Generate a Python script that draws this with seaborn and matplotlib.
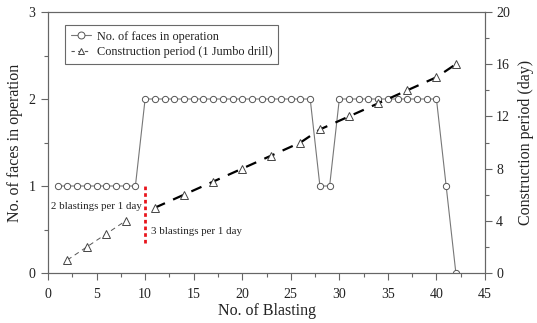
import matplotlib
matplotlib.use("Agg")
import matplotlib.pyplot as plt
import seaborn as sns
import pandas as pd
from matplotlib.ticker import MultipleLocator
from matplotlib.lines import Line2D

blast_no = list(range(1, 43))
faces = [1]*9 + [2]*18 + [1, 1] + [2]*11 + [1, 0]

tri_x1 = [2, 4, 6, 8]
tri_y1 = [1, 2, 3, 4]
tri_x2 = [11, 14, 17, 20, 23, 26, 28, 31, 34, 37, 40, 42]
tri_y2 = [5, 6, 7, 8, 9, 10, 11, 12, 13, 14, 15, 16]

sns.set_theme(style="white")
plt.rcParams['font.family'] = ['Liberation Serif', 'DejaVu Serif']

fig = plt.figure(figsize=(5.37, 3.23), dpi=100)
ax = fig.add_axes([48/537, 1-273/323, (485-48)/537, (273-12)/323])
ax2 = ax.twinx()

df_f = pd.DataFrame({'x': blast_no, 'y': faces})
sns.lineplot(data=df_f, x='x', y='y', ax=ax, color='#777777', lw=0.8,
             marker='o', markersize=4.5, markerfacecolor='white',
             markeredgecolor='#555555', markeredgewidth=0.7)

df1 = pd.DataFrame({'x': tri_x1, 'y': tri_y1})
df2 = pd.DataFrame({'x': tri_x2, 'y': tri_y2})
sns.lineplot(data=df1, x='x', y='y', ax=ax2, color='#555555', lw=0.7,
             linestyle=(0, (5, 4)), marker='^', markersize=6,
             markerfacecolor='white', markeredgecolor='#444444', markeredgewidth=0.7)
sns.lineplot(data=df2, x='x', y='y', ax=ax2, color='black', lw=1.6,
             linestyle=(0, (5, 4)), marker='^', markersize=6,
             markerfacecolor='white', markeredgecolor='#444444', markeredgewidth=0.7)

ax.plot([10, 10], [0.35, 1.0], color='#e8141c', lw=2.0, linestyle=(0, (1.3, 1.1)))

ax.set_xlim(0, 45)
ax.set_ylim(0, 3)
ax2.set_ylim(0, 20)
ax.xaxis.set_major_locator(MultipleLocator(5))
ax.xaxis.set_minor_locator(MultipleLocator(2.5))
ax.yaxis.set_major_locator(MultipleLocator(1))
ax.yaxis.set_minor_locator(MultipleLocator(0.5))
ax2.yaxis.set_major_locator(MultipleLocator(4))
ax2.yaxis.set_minor_locator(MultipleLocator(2))

for a in (ax, ax2):
    for s in a.spines.values():
        s.set_color('#666666')
        s.set_linewidth(0.8)
    a.tick_params(which='both', direction='out', color='#666666', width=0.8,
                  labelsize=10, labelcolor='#222222', pad=3)
    a.tick_params(which='major', length=5)
    a.tick_params(which='minor', length=3)
ax.tick_params(axis='y', which='both', left=True, right=False, pad=4)
ax.tick_params(axis='x', which='both', bottom=True, pad=6)
ax2.tick_params(axis='y', which='both', right=True, left=False, pad=3)

ax.set_xlabel('No. of Blasting', fontsize=11.5, color='#222222', labelpad=1)
ax.set_ylabel('No. of faces in operation', fontsize=11.5, color='#222222', labelpad=4)
ax2.set_ylabel('Construction period (day)', fontsize=11.5, color='#222222', labelpad=6)

ax.text(0.3, 0.76, '2 blastings per 1 day', fontsize=7.8, color='#222222', va='center')
ax.text(10.6, 0.48, '3 blastings per 1 day', fontsize=7.8, color='#222222', va='center')

h1 = Line2D([], [], color='#777777', lw=0.8, marker='o', markersize=5,
            markerfacecolor='white', markeredgecolor='#555555', markeredgewidth=0.7)
h2 = Line2D([], [], color='#555555', lw=0.8, linestyle=(0, (3, 3)), marker='^', markersize=5,
            markerfacecolor='white', markeredgecolor='#444444', markeredgewidth=0.7)
leg = ax.legend([h1, h2], ['No. of faces in operation', 'Construction period (1 Jumbo drill)'],
                loc='upper left', bbox_to_anchor=(0.04, 0.95), fontsize=8.8,
                frameon=True, fancybox=False, edgecolor='#444444', handlelength=1.6,
                borderpad=0.45, labelspacing=0.3, handletextpad=0.5, borderaxespad=0)
leg.get_frame().set_linewidth(0.8)
for t in leg.get_texts():
    t.set_color('#222222')

fig.savefig('out.png', dpi=100)
